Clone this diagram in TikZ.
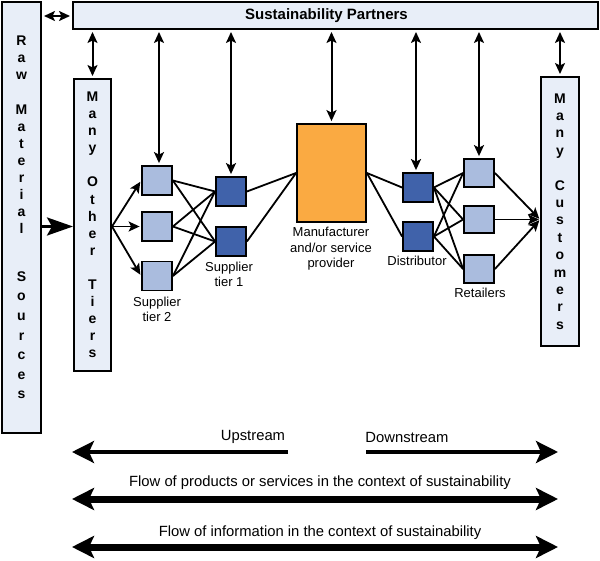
\documentclass[tikz,border=0pt]{standalone}
\usepackage{fontspec}
\setmainfont{Liberation Sans}
\usetikzlibrary{arrows.meta}
\definecolor{panelfill}{RGB}{232,238,248}
\definecolor{lightsq}{RGB}{170,188,222}
\definecolor{darksq}{RGB}{64,98,170}
\definecolor{orangebox}{RGB}{250,170,66}
\begin{document}
\begin{tikzpicture}[x=1pt,y=-1pt,
  panel/.style={draw=black, line width=2pt, fill=panelfill, inner sep=0pt, align=center,
    font=\fontsize{14}{17.1}\selectfont\bfseries},
  sq/.style={draw=black, line width=1.8pt, minimum width=30pt, minimum height=29pt, inner sep=0pt},
  lsq/.style={sq, fill=lightsq},
  dsq/.style={sq, fill=darksq},
  lbl/.style={font=\fontsize{13}{15.5}\selectfont, align=center, inner sep=0pt},
  flowtxt/.style={font=\fontsize{14.8}{17}\selectfont, inner sep=0pt},
  link/.style={line width=1.8pt},
  arr/.style={line width=1.8pt, -{Stealth[length=11pt,width=10pt,inset=2.5pt]}},
  darr/.style={line width=2pt, {Stealth[length=11pt,width=10pt,inset=2.5pt]}-{Stealth[length=11pt,width=10pt,inset=2.5pt]},
    shorten >=2pt, shorten <=2pt},
  bigarr/.style={line width=3pt, -{Stealth[length=26pt,width=18pt,inset=5pt]}},
  thinflow/.style={line width=3.6pt, -{Stealth[length=22pt,width=22pt,inset=5pt]}},
  thickflow/.style={line width=7pt, {Stealth[length=22pt,width=22pt,inset=5pt]}-{Stealth[length=22pt,width=22pt,inset=5pt]}}
]
\useasboundingbox (0,0) rectangle (600,561);

% panels
\node[panel, minimum width=39pt, minimum height=431pt] (raw) at (21.5,217.5)
  {R\\a\\w\\[17.3pt]M\\a\\t\\e\\r\\i\\a\\l\\[30.4pt]S\\[2.5pt]o\\[2.5pt]u\\[2.5pt]r\\[2.5pt]c\\[2.5pt]e\\[2.5pt]s};
\node[panel, minimum width=525pt, minimum height=27pt] (partners) at (335.5,15.5) {};
\node[font=\fontsize{15}{17}\selectfont\bfseries, inner sep=0pt] (sptext) at (326.5,16) {Sustainability Partners};
\node[panel, minimum width=37pt, minimum height=292pt] (tiers) at (92.5,225)
  {M\\a\\n\\y\\[17.1pt]O\\t\\h\\e\\r\\[17.1pt]T\\i\\e\\r\\s};
\node[panel, minimum width=38pt, minimum height=269pt, font=\fontsize{14}{17.4}\selectfont\bfseries] (cust) at (560,211.5)
  {M\\a\\n\\y\\[17.4pt]C\\u\\s\\t\\o\\m\\e\\r\\s};

% squares
\node[lsq] (t2a) at (157,180.5) {};
\node[lsq] (t2b) at (157,226.5) {};
\node[lsq] (t2c) at (157,276) {};
\node[dsq] (t1a) at (231,191.5) {};
\node[dsq] (t1b) at (231,241.5) {};
\node[draw=black, line width=1.8pt, fill=orangebox, minimum width=69pt, minimum height=98pt, inner sep=0pt] (man) at (331.5,173) {};
\node[dsq] (da) at (418,187.5) {};
\node[dsq] (db) at (418,236.5) {};
\node[lsq, minimum height=28pt] (ra) at (479,173) {};
\node[lsq, minimum height=27pt] (rb) at (479,219.5) {};
\node[lsq, minimum height=28pt] (rc) at (479,269) {};

% labels
\node[lbl] (l2) at (157,309.5) {Supplier\\tier 2};
\node[lbl] (l1) at (229,274.5) {Supplier\\tier 1};
\node[lbl] (lm) at (331,249) {Manufacturer\\and/or service\\provider};
\node[lbl] (ld) at (417,261) {Distributor};
\node[lbl] (lr) at (480,293) {Retailers};

% links
\coordinate (tout) at (tiers.east |- t2b.west);
\draw[bigarr] (raw.east |- t2b.west) -- (tiers.west |- t2b.west);
\foreach \t in {t2a,t2b,t2c} \draw[arr, shorten >=1.5pt] (tout) -- (\t.west);
\foreach \s in {t2a,t2b,t2c} \foreach \t in {t1a,t1b} \draw[link] (\s.east) -- (\t.west);
\foreach \s in {t1a,t1b} \draw[link] (\s.east) -- (man.west);
\foreach \t in {da,db} \draw[link] (man.east) -- (\t.west);
\foreach \s in {da,db} \foreach \t in {ra,rb,rc} \draw[link] (\s.east) -- (\t.west);
\coordinate (cin) at (cust.west |- rb.east);
\foreach \s in {ra,rb,rc} \draw[arr, shorten >=1pt] (\s.east) -- (cin);

% partner arrows
\draw[darr] (raw.east |- sptext) -- (partners.west |- sptext);
\draw[darr] (tiers.north) -- (tiers.north |- partners.south);
\draw[darr] ([xshift=2pt]t2a.north) -- ([xshift=2pt]t2a.north |- partners.south);
\draw[darr] (t1a.north) -- (t1a.north |- partners.south);
\draw[darr] (man.north) -- (man.north |- partners.south);
\draw[darr] ([xshift=-2pt]da.north) -- ([xshift=-2pt]da.north |- partners.south);
\draw[darr] (ra.north) -- (ra.north |- partners.south);
\draw[darr] (cust.north) -- (cust.north |- partners.south);

% flows
\node[flowtxt] (up) at (253,437) {Upstream};
\node[flowtxt] (down) at (407,437) {Downstream};
\node[flowtxt] (prod) at (320,483) {Flow of products or services in the context of sustainability};
\node[flowtxt] (info) at (320,533) {Flow of information in the context of sustainability};
\coordinate (upL) at (72,452);
\coordinate (upR) at (288,452);
\coordinate (dnL) at (366,452);
\coordinate (dnR) at (558,452);
\coordinate (prL) at (72,499);
\coordinate (prR) at (558,499);
\coordinate (inL) at (72,547);
\coordinate (inR) at (558,547);
\draw[thinflow] (upR) -- (upL);
\draw[thinflow] (dnL) -- (dnR);
\draw[thickflow] (prL) -- (prR);
\draw[thickflow] (inL) -- (inR);
\end{tikzpicture}
\end{document}
